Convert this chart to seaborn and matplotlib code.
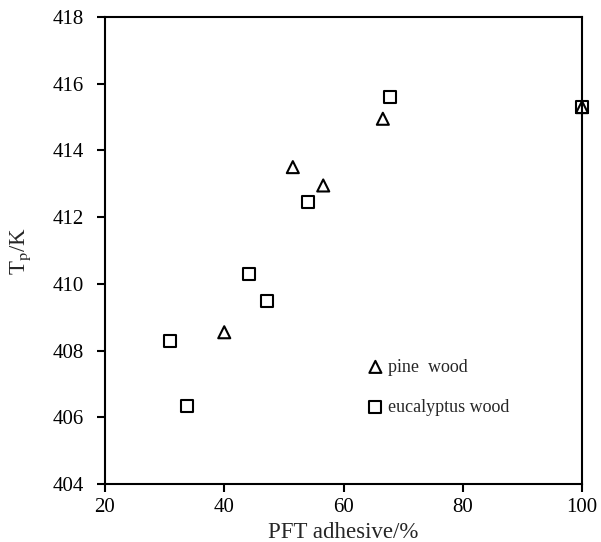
import numpy as np
import pandas as pd
import matplotlib
matplotlib.use("Agg")
import matplotlib.pyplot as plt
import seaborn as sns

# PFT adhesive content (%) and peak temperature Tp (K)
pine_x = [40.0, 51.5, 56.6, 66.6, 100.0]
pine_y = [408.55, 413.5, 412.95, 414.95, 415.3]

euc_x = [30.9, 33.8, 44.2, 47.1, 54.0, 67.8, 100.0]
euc_y = [408.3, 406.35, 410.3, 409.5, 412.45, 415.6, 415.3]

labels = ["pine  wood", "eucalyptus wood"]

sns.set_style("ticks")
plt.rcParams['font.family'] = ['Liberation Serif', 'DejaVu Serif']
plt.rcParams['mathtext.fontset'] = 'stix'

df_pine = pd.DataFrame({"x": pine_x, "y": pine_y})
df_euc = pd.DataFrame({"x": euc_x, "y": euc_y})

fig = plt.figure(figsize=(6.01, 5.42), dpi=100)
ax = fig.add_axes([0.1747, 0.107, 0.7937, 0.8616])

sns.scatterplot(data=df_pine, x="x", y="y", ax=ax, marker="^", s=75,
                color="black", facecolors="none", edgecolors="black",
                linewidth=1.5, label=labels[0], zorder=3, clip_on=False)
sns.scatterplot(data=df_euc, x="x", y="y", ax=ax, marker="s", s=75,
                color="black", facecolors="none", edgecolors="black",
                linewidth=1.5, label=labels[1], zorder=3, clip_on=False)

ax.set_xlim(20, 100)
ax.set_ylim(404, 418)
ax.set_xticks(np.arange(20, 101, 20))
ax.set_yticks(np.arange(404, 419, 2))
ax.tick_params(direction="out", length=6, width=1.5, labelsize=15, colors="black",
               top=False, right=False)
ax.tick_params(axis="y", pad=9)
ax.tick_params(axis="x", pad=4)
for sp in ax.spines.values():
    sp.set_linewidth(1.5)
    sp.set_color("black")

ax.set_xlabel("PFT adhesive/%", fontsize=16.5, labelpad=4)
ax.set_ylabel("T$_\\mathrm{p}$/K", fontsize=16.5, labelpad=14)

leg = ax.legend(loc="upper left", bbox_to_anchor=(0.529, 0.284), frameon=False,
                fontsize=13, handletextpad=0.1, labelspacing=1.3,
                borderaxespad=0, handlelength=1.2)

fig.savefig("out.png", dpi=100)
